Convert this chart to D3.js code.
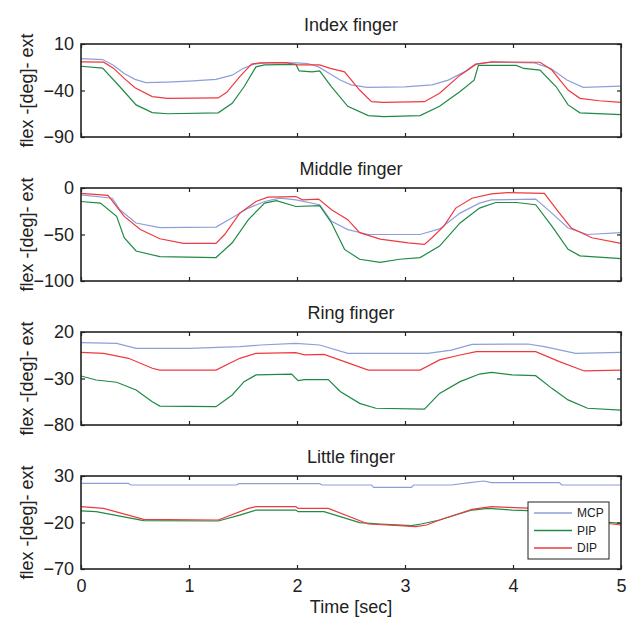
<!DOCTYPE html>
<html><head><meta charset="utf-8">
<script src="https://cdn.jsdelivr.net/npm/d3@7/dist/d3.min.js"></script>
<style>html,body{margin:0;padding:0;background:#fff;overflow:hidden}</style>
</head><body><svg id="c" width="627" height="618"></svg>
<script>
// ---- data ----
const panelTitles = ["Index finger","Middle finger","Ring finger","Little finger"];
const yDomains = [[-90,10],[-100,0],[-80,20],[-70,30]];
const yTickValues = [[10,-40,-90],[0,-50,-100],[20,-30,-80],[30,-20,-70]];
const xTickValues = [0,1,2,3,4,5];
const jointNames = ["MCP","PIP","DIP"];

const indexMCP = [[0,-5.7],[0.2,-6.7],[0.3,-12.8],[0.4,-21.7],[0.5,-28],[0.6,-31.6],[0.8,-31],[1.0,-29.9],[1.25,-28],[1.4,-23.5],[1.5,-16.3],[1.6,-11.7],[1.75,-9.9],[2.0,-10.3],[2.1,-11],[2.2,-14.6],[2.3,-21.7],[2.4,-28.8],[2.5,-34],[2.65,-36.6],[3.0,-36],[3.25,-34],[3.4,-28.8],[3.55,-20],[3.65,-11.7],[3.8,-9.6],[4.2,-10.3],[4.35,-16.3],[4.5,-28.8],[4.65,-36.6],[5,-35.2]];
const indexPIP = [[0,-13.9],[0.2,-16],[0.36,-36],[0.51,-55.5],[0.66,-63.7],[0.8,-65],[1.27,-64],[1.4,-53.7],[1.51,-36],[1.62,-14.6],[1.7,-12.5],[1.99,-12],[2.02,-19],[2.14,-20],[2.21,-19],[2.32,-36],[2.47,-57],[2.66,-67],[2.8,-68],[3.14,-67],[3.32,-57],[3.51,-41],[3.64,-29],[3.68,-13],[4.03,-13],[4.1,-16.3],[4.25,-18],[4.4,-36],[4.51,-55.5],[4.62,-64],[5,-66]];
const indexDIP = [[0,-9.2],[0.21,-9.5],[0.3,-16],[0.4,-27],[0.5,-37],[0.66,-46.6],[0.8,-48.4],[1.27,-48],[1.35,-42],[1.47,-25],[1.58,-11.7],[1.65,-10.3],[1.9,-10],[2.0,-12.5],[2.21,-12.5],[2.3,-16],[2.44,-20],[2.58,-39.5],[2.69,-52],[2.8,-52.7],[3.18,-52],[3.32,-43],[3.51,-23.5],[3.66,-11.7],[3.8,-9.2],[4.25,-9.6],[4.36,-18],[4.51,-39.5],[4.62,-48.4],[4.8,-51],[5,-52.7]];

const middleMCP = [[0,-7.4],[0.29,-11],[0.36,-23.4],[0.51,-37.6],[0.73,-42.6],[1.25,-42],[1.4,-32],[1.55,-21.6],[1.7,-14.5],[1.84,-11],[1.99,-12.8],[2.21,-18],[2.32,-35.8],[2.47,-44.7],[2.66,-50],[3.14,-50],[3.32,-44],[3.51,-27],[3.69,-16.3],[3.8,-12.8],[4.21,-12],[4.36,-27],[4.51,-43],[4.69,-50],[5,-48]];
const middlePIP = [[0,-14.5],[0.18,-16.3],[0.33,-30.5],[0.4,-53.5],[0.51,-67.7],[0.73,-73.8],[1.25,-74.8],[1.4,-58.9],[1.55,-34],[1.7,-16.3],[1.81,-13.5],[1.99,-19.9],[2.21,-19],[2.32,-37.6],[2.44,-66],[2.58,-76.6],[2.77,-80],[2.95,-76.6],[3.14,-74.8],[3.32,-62.4],[3.51,-37.6],[3.69,-21.6],[3.84,-15.6],[4.03,-15.6],[4.21,-18],[4.36,-41],[4.51,-66],[4.62,-73],[5,-75.9]];
const middleDIP = [[0,-5.7],[0.25,-8],[0.4,-30.5],[0.55,-44.7],[0.73,-54.6],[0.95,-59.6],[1.25,-59.6],[1.33,-50],[1.47,-27],[1.62,-14.5],[1.73,-9.9],[1.99,-9.2],[2.05,-12.8],[2.2,-12],[2.32,-23.4],[2.47,-34],[2.58,-48],[2.77,-55],[3.03,-59],[3.18,-60.6],[3.25,-53.5],[3.36,-41],[3.47,-21.6],[3.62,-11],[3.8,-6.4],[3.95,-5],[4.29,-5.7],[4.43,-27],[4.54,-43],[4.73,-53.5],[5,-59.6]];

const ringMCP = [[0,8.5],[0.33,7.8],[0.51,2.4],[1.0,2.4],[1.47,4.2],[1.66,6],[1.99,7.8],[2.21,6],[2.47,-3],[3.21,-3],[3.43,0.6],[3.62,6.7],[4.14,7.1],[4.29,4.2],[4.58,-3],[5,-1.9]];
const ringPIP = [[0,-27.3],[0.14,-31.6],[0.33,-34],[0.51,-42.4],[0.66,-55],[0.73,-59.6],[1.25,-60.3],[1.4,-47.7],[1.51,-33.4],[1.62,-26.2],[1.95,-25.2],[2.01,-32.3],[2.07,-31.2],[2.29,-31.2],[2.4,-44],[2.58,-56.7],[2.73,-62],[3.18,-63],[3.32,-46],[3.51,-33.4],[3.69,-25.2],[3.8,-23.4],[3.99,-26],[4.21,-27],[4.36,-40.6],[4.51,-53],[4.69,-62],[5,-63.9]];
const ringDIP = [[0,-1.9],[0.21,-3],[0.44,-8.3],[0.66,-19],[0.73,-20.9],[1.25,-20.9],[1.47,-8.3],[1.62,-3],[1.99,-2.2],[2.07,-4.5],[2.25,-4],[2.44,-11.9],[2.66,-20.9],[3.14,-20.9],[3.32,-10],[3.51,-4.7],[3.66,-1.1],[4.21,-1.1],[4.43,-11.9],[4.66,-21.9],[5,-20.9]];

const littleMCP = [[0,22.1],[0.44,22.1],[0.46,20.3],[1.44,20.3],[1.46,21.8],[2.21,21.8],[2.23,20.3],[2.69,20.3],[2.71,17.8],[3.06,17.8],[3.08,20.3],[3.43,20.3],[3.6,22.8],[3.73,24.6],[3.8,22.8],[4.43,22.8],[4.45,20.3],[5,20.3]];
const littlePIP = [[0,-7.6],[0.14,-8.3],[0.58,-18],[1.27,-18.4],[1.47,-12],[1.62,-6.6],[1.99,-6.6],[2.01,-8.3],[2.25,-8.3],[2.58,-20.2],[2.77,-21.6],[3.06,-23.4],[3.15,-21.6],[3.32,-17.3],[3.62,-6.6],[3.77,-4.8],[3.99,-6.6],[4.14,-7.3],[4.5,-13],[4.8,-19],[5,-20.9]];
const littleDIP = [[0,-3],[0.21,-4.8],[0.58,-16.6],[1.27,-17.3],[1.55,-4.8],[1.62,-3],[1.99,-3],[2.01,-4.8],[2.29,-4.8],[2.66,-21.6],[2.95,-23.4],[3.1,-24.5],[3.2,-22.7],[3.32,-17.3],[3.62,-5.8],[3.8,-3],[3.95,-3.7],[4.2,-4.8],[4.5,-10],[4.8,-20],[5,-22.7]];

const panelSeries = [
  [indexMCP, indexPIP, indexDIP],
  [middleMCP, middlePIP, middleDIP],
  [ringMCP, ringPIP, ringDIP],
  [littleMCP, littlePIP, littleDIP]
];

// ---- layout / style ----
const colors = {MCP:"#8e9fd8", PIP:"#1f8a45", DIP:"#ee3a3f"};
const left = 81, right = 621, panelH = 93;
const panelTops = [44, 188, 332, 476];
const font = "'Liberation Sans', Arial, sans-serif";
const fs = 18;

const svg = d3.select("#c");
const x = d3.scaleLinear().domain([0,5]).range([left,right]);

panelSeries.forEach((series, i) => {
  const top = panelTops[i], bottom = top + panelH;
  const y = d3.scaleLinear().domain(yDomains[i]).range([bottom, top]);
  const g = svg.append("g");

  const cid = "clip" + i;
  svg.append("clipPath").attr("id", cid).append("rect")
    .attr("x", left).attr("y", top).attr("width", right-left).attr("height", panelH);

  const line = d3.line().x(d => x(d[0])).y(d => y(d[1]));
  [0,1,2].forEach(k => {
    g.append("path").datum(series[k])
      .attr("clip-path", `url(#${cid})`)
      .attr("fill","none").attr("stroke", colors[jointNames[k]])
      .attr("stroke-width", 1.2).attr("d", line);
  });

  const axL = d3.axisLeft(y).tickValues(yTickValues[i]).tickSizeInner(-4).tickSizeOuter(0).tickPadding(7);
  const axR = d3.axisRight(y).tickValues(yTickValues[i]).tickSizeInner(-4).tickSizeOuter(0).tickFormat("");
  const axB = d3.axisBottom(x).tickValues(xTickValues).tickSizeInner(-4).tickSizeOuter(0).tickPadding(10)
    .tickFormat(i < 3 ? "" : d3.format("d"));
  const axT = d3.axisTop(x).tickValues(xTickValues).tickSizeInner(-4).tickSizeOuter(0).tickFormat("");

  const gl = g.append("g").attr("transform", `translate(${left},0)`).call(axL);
  const gr = g.append("g").attr("transform", `translate(${right},0)`).call(axR);
  const gb = g.append("g").attr("transform", `translate(0,${bottom})`).call(axB);
  const gt = g.append("g").attr("transform", `translate(0,${top})`).call(axT);
  [gl,gr,gb,gt].forEach(a => {
    a.select(".domain").remove();
    a.selectAll("line").attr("stroke","#222").attr("stroke-width",1.2);
    a.selectAll("text").attr("font-family", font).attr("font-size", fs).attr("fill","#222");
  });

  g.append("rect").attr("x", left).attr("y", top).attr("width", right-left).attr("height", panelH)
    .attr("fill","none").attr("stroke","#222").attr("stroke-width",1.6);

  g.append("text").attr("x", (left+right)/2).attr("y", top - 13.5)
    .attr("text-anchor","middle").attr("font-family", font).attr("font-size", fs).attr("fill","#222")
    .text(panelTitles[i]);

  g.append("text").attr("transform", `translate(33,${(top+bottom)/2}) rotate(-90)`)
    .attr("text-anchor","middle").attr("font-family", font).attr("font-size", fs).attr("fill","#222")
    .text("flex -[deg]- ext");
});

svg.append("text").attr("x", (left+right)/2).attr("y", 613)
  .attr("text-anchor","middle").attr("font-family", font).attr("font-size", fs).attr("fill","#222")
  .text("Time [sec]");

// legend
const lg = svg.append("g");
lg.append("rect").attr("x",528).attr("y",502).attr("width",81).attr("height",57)
  .attr("fill","#fff").attr("stroke","#222").attr("stroke-width",1);
jointNames.forEach((n, k) => {
  const yy = 513 + k*17.5;
  lg.append("line").attr("x1",534).attr("x2",572).attr("y1",yy).attr("y2",yy)
    .attr("stroke", colors[n]).attr("stroke-width", 1.4);
  lg.append("text").attr("x",577).attr("y",yy+4).attr("font-family", font).attr("font-size",12)
    .attr("fill","#222").text(n);
});
</script></body></html>
